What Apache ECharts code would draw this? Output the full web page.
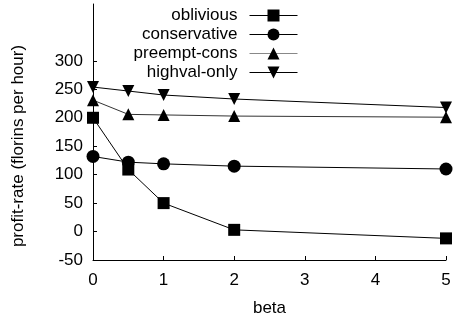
<!DOCTYPE html>
<html><head><meta charset="utf-8">
<script src="https://cdn.jsdelivr.net/npm/echarts@6/dist/echarts.min.js"></script>
<style>html,body{margin:0;padding:0;background:#fff}#c{width:454px;height:322px}</style>
</head><body><div id="c"></div>
<script>
const betas = [0, 0.5, 1, 2, 5];
const oblivious = [200, 109, 50, 3, -12];
const conservative = [132, 122, 119, 115, 110];
const preemptCons = [231, 206, 205, 203, 201];
const highvalOnly = [254, 247, 240, 233, 218];
const yTickValues = [-50, 0, 50, 100, 150, 200, 250, 300];
const xTickValues = [0, 1, 2, 3, 4, 5];
const seriesNames = ['oblivious', 'conservative', 'preempt-cons', 'highval-only'];

const font = 'Liberation Sans, Arial, sans-serif';
const fs = 17;
const pair = (ys) => betas.map((b, i) => [b, ys[i]]);

const defs = [
  {name: seriesNames[0], data: oblivious, symbol: 'rect', rot: 0, color: '#000', legendColor: '#000', size: 12},
  {name: seriesNames[1], data: conservative, symbol: 'circle', rot: 0, color: '#000', legendColor: '#000', size: 13},
  {name: seriesNames[2], data: preemptCons, symbol: 'triangle', rot: 0, color: '#333', legendColor: '#888', size: 12},
  {name: seriesNames[3], data: highvalOnly, symbol: 'triangle', rot: 180, color: '#000', legendColor: '#000', size: 12}
];

const legendRows = [15, 34, 53, 72];

const chart = echarts.init(document.getElementById('c'), null, {renderer: 'canvas'});
chart.setOption({
  animation: false,
  backgroundColor: '#fff',
  grid: {left: 93, right: 8, top: 4, bottom: 62, containLabel: false, outerBoundsMode: 'none'},
  xAxis: {
    type: 'value', min: 0, max: 5, interval: 1,
    name: 'beta', nameLocation: 'middle', nameGap: 40,
    nameTextStyle: {fontFamily: font, fontSize: fs, color: '#000'},
    axisLine: {show: true, onZero: false, lineStyle: {color: '#000', width: 1}},
    axisTick: {show: true, inside: true, length: 4, lineStyle: {color: '#000'}, customValues: xTickValues},
    axisLabel: {fontFamily: font, fontSize: fs, color: '#000', margin: 12, customValues: xTickValues},
    splitLine: {show: false}
  },
  yAxis: {
    type: 'value', min: -50, max: 400, interval: 50,
    name: 'profit-rate (florins per hour)', nameLocation: 'middle', nameGap: 66,
    nameTextStyle: {fontFamily: font, fontSize: fs, color: '#000', padding: [0, 28, 0, 0]},
    axisLine: {show: true, onZero: false, lineStyle: {color: '#000', width: 1}},
    axisTick: {show: true, inside: true, length: 4, lineStyle: {color: '#000'}, customValues: yTickValues},
    axisLabel: {fontFamily: font, fontSize: fs, color: '#000', margin: 10, customValues: yTickValues},
    splitLine: {show: false}
  },
  legend: defs.map((d, i) => ({
    data: [{name: d.name, lineStyle: {color: d.legendColor, width: 1}}],
    orient: 'vertical',
    right: 156,
    top: legendRows[i] - 8,
    padding: 0,
    align: 'right',
    itemWidth: 48,
    itemHeight: 15,
    textStyle: {fontFamily: font, fontSize: fs, color: '#000', padding: [0, 7, 0, 0]}
  })),
  series: defs.map(d => ({
    name: d.name,
    type: 'line',
    data: pair(d.data),
    symbol: d.symbol,
    symbolRotate: d.rot,
    symbolSize: d.size,
    showAllSymbol: true,
    lineStyle: {color: d.color, width: 1},
    itemStyle: {color: '#000', borderWidth: 0},
    emphasis: {disabled: true}
  }))
});
</script></body></html>
